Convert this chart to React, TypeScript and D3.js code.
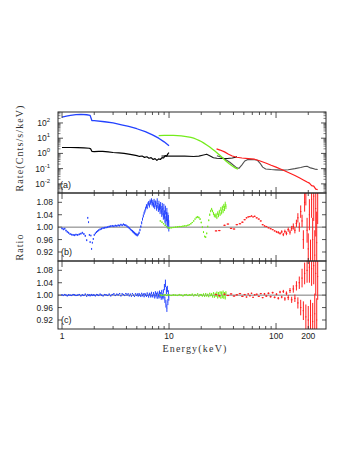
import React from 'react';
import * as d3 from 'd3';

// ---- panel (a): model/data count rates, log10(cts/s/keV) ----
const blueTopE = [1.0, 1.1, 1.2, 1.35, 1.5, 1.7, 1.83, 1.9, 2.0, 2.5, 3.0, 3.6, 4.2, 5.0, 6.0, 7.0, 8.0, 9.0, 10.0];
const blueTopLog = [2.39, 2.45, 2.5, 2.55, 2.56, 2.54, 2.5, 2.16, 2.15, 2.08, 2.0, 1.88, 1.77, 1.62, 1.43, 1.22, 1.0, 0.76, 0.5];

const blackTopE = [1.0, 1.2, 1.4, 1.6, 1.8, 1.85, 1.9, 2.0, 2.2, 2.4, 2.7, 3.0, 3.4, 3.8, 4.2, 4.6, 5.0, 5.3, 5.6, 5.9, 6.2, 6.5, 6.8, 7.1, 7.4, 7.7, 8.0, 8.3, 8.6, 8.9, 9.2, 9.5, 9.8, 10.0];
const blackTopLog = [0.39, 0.39, 0.38, 0.36, 0.34, 0.3, 0.14, 0.12, 0.13, 0.14, 0.1, 0.06, 0.03, 0.0, -0.05, -0.1, -0.15, -0.2, -0.17, -0.26, -0.22, -0.32, -0.28, -0.4, -0.34, -0.46, -0.36, -0.4, -0.28, -0.3, -0.15, -0.18, 0.0, 0.05];

const bkg2E = [8.5, 10, 12, 14, 17, 19, 21, 22.5, 24, 26, 28, 31, 35, 39, 42, 43];
const bkg2Log = [-0.17, -0.18, -0.17, -0.18, -0.2, -0.18, -0.1, -0.05, -0.15, -0.28, -0.32, -0.33, -0.33, -0.3, -0.25, -0.2];

const bkg3E = [28, 31, 34, 37, 40, 43, 45, 48, 51, 54, 58, 63, 67, 71, 75, 80, 90, 100, 115, 130, 150, 170, 185, 195, 210, 230, 245];
const bkg3Log = [-0.15, -0.25, -0.42, -0.58, -0.78, -0.95, -0.98, -0.75, -0.5, -0.41, -0.4, -0.42, -0.45, -0.65, -0.9, -1.02, -1.06, -1.08, -1.1, -1.07, -1.0, -0.93, -0.86, -0.85, -0.95, -1.03, -1.06];

const greenTopE = [8, 9, 10, 11, 12, 13, 14, 15, 16, 17, 18, 19, 20, 21, 22.5, 24, 25.5, 27, 28.5, 30, 32, 34, 36.5, 39, 41.5, 44];
const greenTopLog = [1.17, 1.18, 1.18, 1.18, 1.17, 1.15, 1.12, 1.09, 1.05, 1.0, 0.93, 0.86, 0.78, 0.69, 0.55, 0.42, 0.28, 0.14, 0.0, -0.14, -0.32, -0.5, -0.68, -0.83, -0.95, -1.03];

const redTopE = [27.8, 30, 33, 36, 39, 43, 48, 55, 63, 70, 80, 90, 100, 110, 120, 135, 150, 165, 180, 195, 205, 215, 225, 235, 245];
const redTopLog = [0.3, 0.22, 0.1, -0.05, -0.17, -0.25, -0.3, -0.34, -0.38, -0.48, -0.63, -0.78, -0.9, -1.02, -1.14, -1.3, -1.45, -1.6, -1.74, -1.88, -1.95, -2.12, -2.15, -2.35, -2.38];

// ---- ratio panels (b) and (c) ----
const blueE = [1.00, 1.03, 1.06, 1.09, 1.12, 1.15, 1.19, 1.23, 1.27, 1.31, 1.35, 1.40, 1.45, 1.50, 1.55, 1.60, 1.65, 1.70,
  1.74, 1.77, 1.80, 1.83, 1.86, 1.89, 1.92, 1.96, 2.00, 2.05, 2.10, 2.15, 2.20, 2.27, 2.34, 2.42, 2.50, 2.58, 2.67, 2.76, 2.85, 2.95,
  3.05, 3.15, 3.25, 3.35, 3.45, 3.55, 3.65, 3.75, 3.85, 3.95, 4.05, 4.15, 4.25, 4.35, 4.45, 4.55, 4.65, 4.75, 4.85, 4.95,
  5.05, 5.15, 5.25, 5.35, 5.45, 5.55, 5.65, 5.75, 5.85, 5.95, 6.05, 6.15, 6.25, 6.35, 6.45, 6.55, 6.65, 6.75, 6.85, 6.95,
  7.05, 7.15, 7.25, 7.35, 7.45, 7.55, 7.65, 7.75, 7.85, 7.95, 8.05, 8.15, 8.25, 8.35, 8.45, 8.55, 8.65, 8.75, 8.85, 8.95,
  9.05, 9.15, 9.25, 9.35, 9.45, 9.55, 9.65, 9.75, 9.85, 9.95];
const blueRatioB = [0.996, 0.993, 0.995, 0.989, 0.985, 0.982, 0.978, 0.976, 0.975, 0.974, 0.976, 0.975, 0.977, 0.979, 0.982, 0.978, 0.972, 0.958,
  1.030, 1.016, 0.975, 0.952, 0.973, 0.930, 0.950, 0.962, 0.975, 0.980, 0.984, 0.987, 0.990, 0.993, 0.995, 0.997, 0.998, 0.999, 1.000, 1.002, 1.003, 1.004,
  1.003, 1.005, 1.004, 1.006, 1.005, 1.008, 1.006, 1.009, 1.007, 1.006, 1.003, 1.000, 0.997, 0.993, 0.990, 0.987, 0.984, 0.981, 0.978, 0.976,
  0.974, 0.977, 0.982, 0.991, 1.002, 1.014, 1.026, 1.036, 1.045, 1.052, 1.060, 1.068, 1.064, 1.074, 1.078, 1.070, 1.082, 1.079, 1.086, 1.074,
  1.080, 1.071, 1.083, 1.066, 1.078, 1.074, 1.062, 1.084, 1.069, 1.058, 1.075, 1.064, 1.052, 1.070, 1.057, 1.044, 1.066, 1.050, 1.036, 1.062,
  1.041, 1.028, 1.055, 1.020, 1.034, 1.046, 1.012, 1.030, 1.022, 1.004];
const blueErrB = [0.003, 0.003, 0.003, 0.003, 0.003, 0.003, 0.003, 0.003, 0.003, 0.003, 0.003, 0.003, 0.003, 0.003, 0.003, 0.003, 0.003, 0.003,
  0.003, 0.003, 0.003, 0.003, 0.003, 0.003, 0.003, 0.003, 0.003, 0.003, 0.003, 0.003, 0.003, 0.003, 0.003, 0.003, 0.003, 0.003, 0.003, 0.003, 0.003, 0.003,
  0.003, 0.003, 0.003, 0.003, 0.003, 0.003, 0.003, 0.003, 0.003, 0.003, 0.003, 0.003, 0.003, 0.003, 0.003, 0.004, 0.004, 0.004, 0.004, 0.004,
  0.004, 0.004, 0.004, 0.004, 0.004, 0.005, 0.005, 0.005, 0.005, 0.005, 0.006, 0.006, 0.006, 0.006, 0.006, 0.007, 0.007, 0.007, 0.007, 0.007,
  0.008, 0.008, 0.008, 0.008, 0.008, 0.009, 0.009, 0.009, 0.009, 0.009, 0.010, 0.010, 0.010, 0.011, 0.011, 0.011, 0.012, 0.012, 0.012, 0.013,
  0.013, 0.014, 0.014, 0.015, 0.015, 0.016, 0.016, 0.017, 0.017, 0.018];
const blueRatioC = [1.001, 0.999, 1.002, 1.000, 0.998, 1.001, 1.000, 0.999, 1.002, 1.001, 0.999, 1.000, 1.002, 0.998, 1.001, 0.999, 1.003, 0.997,
  1.002, 0.999, 1.001, 0.998, 1.000, 1.002, 0.999, 1.001, 1.000, 0.998, 1.002, 1.001, 0.999, 1.003, 1.000, 0.998, 1.002, 1.001, 0.999, 1.003, 0.998, 1.002,
  1.004, 0.999, 1.003, 1.001, 1.005, 0.998, 1.004, 1.002, 0.999, 1.005, 1.001, 1.004, 0.998, 1.003, 0.997, 1.005, 1.000, 0.996, 1.004, 0.999,
  1.003, 0.998, 1.004, 1.000, 0.997, 1.005, 0.999, 1.003, 0.996, 1.004, 1.001, 0.997, 1.006, 1.000, 0.995, 1.004, 1.002, 0.996, 1.007, 0.999,
  0.996, 1.006, 1.001, 0.994, 1.008, 0.998, 1.003, 0.993, 1.007, 1.000, 0.995, 1.009, 0.997, 1.004, 0.991, 1.010, 0.999, 0.993, 1.012, 0.996,
  1.026, 0.985, 1.038, 0.972, 1.015, 0.958, 1.020, 0.978, 1.006, 0.992];
const blueErrC = [0.002, 0.002, 0.002, 0.002, 0.002, 0.002, 0.002, 0.002, 0.002, 0.002, 0.002, 0.002, 0.002, 0.002, 0.002, 0.002, 0.002, 0.002,
  0.002, 0.002, 0.002, 0.002, 0.002, 0.002, 0.002, 0.002, 0.002, 0.002, 0.002, 0.002, 0.002, 0.002, 0.002, 0.002, 0.002, 0.002, 0.002, 0.002, 0.002, 0.002,
  0.002, 0.002, 0.002, 0.002, 0.002, 0.002, 0.002, 0.002, 0.002, 0.002, 0.002, 0.002, 0.002, 0.002, 0.002, 0.002, 0.002, 0.002, 0.002, 0.002,
  0.003, 0.003, 0.003, 0.003, 0.003, 0.003, 0.003, 0.003, 0.003, 0.003, 0.003, 0.003, 0.003, 0.003, 0.003, 0.004, 0.004, 0.004, 0.004, 0.004,
  0.004, 0.004, 0.004, 0.005, 0.005, 0.005, 0.005, 0.005, 0.005, 0.005, 0.006, 0.006, 0.006, 0.006, 0.006, 0.007, 0.007, 0.007, 0.007, 0.007,
  0.010, 0.010, 0.012, 0.012, 0.012, 0.012, 0.010, 0.010, 0.010, 0.010];

const greenE = [8.3, 8.6, 8.9, 9.2, 9.5, 9.8, 10.1, 10.5, 11, 11.5, 12, 12.5, 13, 13.5, 14, 14.5, 15, 15.5, 16, 16.5, 17, 17.5, 18, 18.5,
  19, 19.5, 20, 20.5, 21, 21.5, 22, 22.5, 23, 23.5, 24, 24.5, 25, 25.5, 26, 26.5, 27, 27.5, 28, 28.5, 29, 29.5, 30, 30.5, 31, 31.5, 32, 32.5, 33, 33.5, 34];
const greenRatioB = [1.020, 1.016, 1.011, 1.006, 1.002, 0.998, 0.997, 0.998, 0.999, 1.000, 1.001, 1.002, 1.002, 1.003, 1.004, 1.004, 1.006, 1.008,
  1.011, 1.015, 1.020, 1.026, 1.031, 1.033, 1.031, 1.026, 1.015, 1.000, 0.984, 0.970, 0.968, 0.980, 1.002, 1.022, 1.040, 1.052, 1.058, 1.052,
  1.044, 1.038, 1.035, 1.040, 1.032, 1.045, 1.038, 1.050, 1.042, 1.058, 1.048, 1.062, 1.052, 1.068, 1.060, 1.074, 1.066];
const greenErrB = [0.002, 0.002, 0.002, 0.002, 0.002, 0.002, 0.002, 0.002, 0.002, 0.002, 0.002, 0.002, 0.002, 0.002, 0.002, 0.002, 0.002, 0.002,
  0.002, 0.002, 0.002, 0.002, 0.003, 0.003, 0.003, 0.003, 0.003, 0.003, 0.003, 0.003, 0.003, 0.003, 0.003, 0.003, 0.004, 0.004, 0.004, 0.004,
  0.005, 0.005, 0.005, 0.005, 0.006, 0.006, 0.006, 0.006, 0.006, 0.007, 0.007, 0.007, 0.007, 0.007, 0.008, 0.008, 0.008];
const greenRatioC = [1.001, 0.999, 1.000, 1.002, 0.999, 1.001, 1.000, 0.999, 1.001, 1.000, 0.999, 1.002, 1.000, 0.998, 1.001, 1.002, 0.999, 1.001,
  1.000, 1.003, 0.998, 1.002, 0.999, 1.004, 0.997, 1.002, 1.001, 0.998, 1.003, 0.997, 1.004, 0.998, 1.002, 0.996, 1.005, 0.999, 1.003, 0.996,
  1.006, 0.995, 1.004, 0.998, 1.007, 0.994, 1.005, 0.997, 1.008, 0.993, 1.006, 0.996, 1.009, 0.994, 1.004, 0.992, 1.007];
const greenErrC = [0.002, 0.002, 0.002, 0.002, 0.002, 0.002, 0.002, 0.002, 0.002, 0.002, 0.002, 0.002, 0.002, 0.002, 0.002, 0.002, 0.002, 0.002,
  0.002, 0.002, 0.002, 0.002, 0.002, 0.002, 0.002, 0.002, 0.003, 0.003, 0.003, 0.003, 0.003, 0.003, 0.003, 0.003, 0.003, 0.003, 0.004, 0.004,
  0.004, 0.004, 0.004, 0.004, 0.005, 0.005, 0.005, 0.005, 0.005, 0.005, 0.006, 0.006, 0.006, 0.006, 0.006, 0.006, 0.006];

const redE = [27.5, 29.5, 33, 35.5, 38, 40.5, 43, 46, 48.5, 51, 53, 55, 57, 59, 61, 63, 66, 69, 72, 75, 78, 81, 85, 89, 93, 97, 101, 105, 109, 113,
  117, 121, 125, 130, 135, 140, 145, 150, 155, 160, 165, 170, 175, 180, 185, 190, 195, 200, 205, 210, 215, 220, 225, 230, 235, 240, 245];
const redRatioB = [0.988, 0.989, 1.006, 1.010, 0.996, 0.994, 1.008, 1.011, 1.016, 1.024, 1.030, 1.033, 1.034, 1.036, 1.033, 1.035, 1.030, 1.026, 1.020, 1.008,
  1.004, 1.002, 0.998, 0.995, 0.992, 0.988, 0.985, 0.983, 0.980, 0.985, 0.976, 0.986, 0.980, 0.992, 0.984, 0.996, 1.002, 0.990, 1.012, 1.030,
  1.000, 1.050, 1.020, 0.960, 1.080, 1.110, 0.990, 0.930, 1.040, 0.900, 1.090, 0.960, 1.100, 0.910, 1.060, 0.950, 1.110];
const redErrB = [0.002, 0.002, 0.002, 0.002, 0.002, 0.002, 0.002, 0.002, 0.002, 0.002, 0.002, 0.002, 0.002, 0.002, 0.002, 0.002, 0.002, 0.002, 0.002, 0.002,
  0.002, 0.002, 0.002, 0.002, 0.002, 0.002, 0.003, 0.004, 0.004, 0.005, 0.005, 0.006, 0.006, 0.007, 0.008, 0.008, 0.010, 0.010, 0.012, 0.015,
  0.015, 0.020, 0.020, 0.030, 0.030, 0.040, 0.040, 0.050, 0.050, 0.060, 0.060, 0.070, 0.080, 0.080, 0.090, 0.100, 0.100];
const redRatioC = [1.002, 0.998, 1.003, 0.999, 1.004, 0.997, 1.001, 1.005, 0.996, 1.002, 0.994, 1.004, 0.998, 1.006, 0.993, 1.001, 1.003, 0.996, 1.005, 0.992,
  1.004, 0.997, 1.006, 0.995, 1.008, 0.993, 1.003, 0.990, 1.010, 0.994, 1.012, 0.988, 1.006, 0.992, 1.015, 0.985, 1.020, 0.990, 1.030, 0.975,
  1.040, 0.960, 1.055, 0.950, 1.070, 0.930, 1.080, 0.920, 1.090, 0.935, 1.085, 0.915, 1.095, 0.940, 1.070, 0.920, 1.060];
const redErrC = [0.002, 0.002, 0.002, 0.002, 0.002, 0.002, 0.002, 0.002, 0.002, 0.002, 0.002, 0.002, 0.002, 0.002, 0.002, 0.002, 0.002, 0.002, 0.002, 0.002,
  0.003, 0.003, 0.003, 0.003, 0.003, 0.003, 0.003, 0.004, 0.004, 0.004, 0.005, 0.006, 0.006, 0.008, 0.008, 0.010, 0.012, 0.012, 0.015, 0.018,
  0.020, 0.025, 0.030, 0.030, 0.035, 0.040, 0.040, 0.045, 0.050, 0.050, 0.055, 0.060, 0.060, 0.065, 0.070, 0.070, 0.075];

// ---- axes ----
const xLabelTicks = [1, 10, 100, 200];
const xMajorTicks = [1, 10, 100];
const xMinorTicks = [2, 3, 4, 5, 6, 7, 8, 9, 20, 30, 40, 50, 60, 70, 80, 90, 200];
const rateDecades = [-2, -1, 0, 1, 2];
const rateMinorTicks = [0.003, 0.004, 0.005, 0.006, 0.007, 0.008, 0.009, 0.02, 0.03, 0.04, 0.05, 0.06, 0.07, 0.08, 0.09,
  0.2, 0.3, 0.4, 0.5, 0.6, 0.7, 0.8, 0.9, 2, 3, 4, 5, 6, 7, 8, 9, 20, 30, 40, 50, 60, 70, 80, 90, 200, 300, 400, 500];
const ratioTicks = [0.92, 0.96, 1.0, 1.04, 1.08];

const BLUE = '#2342ff';
const GREEN = '#74ec1c';
const RED = '#ff1c1c';
const FRAME = '#2a2a2a';
const SANS = 'Liberation Sans, Arial, sans-serif';
const SERIF = 'Liberation Serif, Times New Roman, serif';

export default function App() {
  const left = 58, right = 326;
  const panels = { a: [112, 193], b: [193, 261], c: [261, 329] };

  const x = d3.scaleLog().domain([0.917, 293]).range([left, right]);
  const yA = d3.scaleLog().domain([Math.pow(10, -2.6), Math.pow(10, 2.72)]).range([193, 112]);
  const yB = d3.scaleLinear().domain([0.891, 1.11]).range([261, 193]);
  const yC = d3.scaleLinear().domain([0.891, 1.11]).range([329, 261]);

  const rateLine = (es: number[], logs: number[]) =>
    d3.line<number>()
      .x((_, i) => x(es[i]))
      .y(d => yA(Math.pow(10, d)))(logs) || '';

  // data crosses: vertical error bar + short horizontal bin mark
  const crosses = (es: number[], rs: number[], errs: number[], y: d3.ScaleLinear<number, number>) => {
    let p = '';
    es.forEach((e, i) => {
      const px = x(e);
      const prev = i > 0 ? x(es[i - 1]) : px - (x(es[1]) - px);
      const next = i < es.length - 1 ? x(es[i + 1]) : px + (px - x(es[i - 1]));
      const hl = Math.min((px - prev) / 2, 1.2);
      const hr = Math.min((next - px) / 2, 1.2);
      const err = Math.max(errs[i], 0.0015);
      p += `M${px.toFixed(2)},${y(rs[i] - err).toFixed(2)}V${y(rs[i] + err).toFixed(2)}`;
      p += `M${(px - hl).toFixed(2)},${y(rs[i]).toFixed(2)}H${(px + hr).toFixed(2)}`;
    });
    return p;
  };

  const xTicks = (top: number, bottom: number) => (
    <g stroke={FRAME} strokeWidth={0.8}>
      {xMajorTicks.map(t => (
        <g key={'M' + t}>
          <line x1={x(t)} x2={x(t)} y1={bottom} y2={bottom - 6} />
          <line x1={x(t)} x2={x(t)} y1={top} y2={top + 6} />
        </g>
      ))}
      {xMinorTicks.map(t => (
        <g key={'m' + t}>
          <line x1={x(t)} x2={x(t)} y1={bottom} y2={bottom - 3} />
          <line x1={x(t)} x2={x(t)} y1={top} y2={top + 3} />
        </g>
      ))}
    </g>
  );

  const ratioAxis = (y: d3.ScaleLinear<number, number>) => (
    <g>
      {ratioTicks.map(t => (
        <g key={t}>
          <line x1={left} x2={left + 4} y1={y(t)} y2={y(t)} stroke={FRAME} strokeWidth={0.8} />
          <line x1={right} x2={right - 4} y1={y(t)} y2={y(t)} stroke={FRAME} strokeWidth={0.8} />
          <text x={53} y={y(t) + 3} textAnchor="end" fontSize={8.5} fontFamily={SANS} fill="#222">{t.toFixed(2)}</text>
        </g>
      ))}
      <line x1={left} x2={right} y1={y(1)} y2={y(1)} stroke="#7a7a7a" strokeWidth={1} />
    </g>
  );

  return (
    <svg width={357} height={462} style={{ position: 'absolute', left: 0, top: 0, background: '#fff' }}>
      <defs>
        <clipPath id="clipA"><rect x={left} y={panels.a[0]} width={right - left} height={panels.a[1] - panels.a[0]} /></clipPath>
        <clipPath id="clipB"><rect x={left} y={panels.b[0]} width={right - left} height={panels.b[1] - panels.b[0]} /></clipPath>
        <clipPath id="clipC"><rect x={left} y={panels.c[0]} width={right - left} height={panels.c[1] - panels.c[0]} /></clipPath>
      </defs>

      {/* panel (a) */}
      <g clipPath="url(#clipA)" fill="none" strokeLinejoin="round">
        <path d={rateLine(bkg3E, bkg3Log)} stroke="#505050" strokeWidth={1.1} />
        <path d={rateLine(bkg2E, bkg2Log)} stroke="#111" strokeWidth={1.1} />
        <path d={rateLine(blackTopE, blackTopLog)} stroke="#000" strokeWidth={1.2} />
        <path d={rateLine(blueTopE, blueTopLog)} stroke={BLUE} strokeWidth={1.3} />
        <path d={rateLine(greenTopE, greenTopLog)} stroke={GREEN} strokeWidth={1.3} />
        <path d={rateLine(redTopE, redTopLog)} stroke={RED} strokeWidth={1.2} />
      </g>
      {rateDecades.map(d => (
        <g key={d}>
          <line x1={left} x2={left + 5} y1={yA(Math.pow(10, d))} y2={yA(Math.pow(10, d))} stroke={FRAME} strokeWidth={0.8} />
          <line x1={right} x2={right - 5} y1={yA(Math.pow(10, d))} y2={yA(Math.pow(10, d))} stroke={FRAME} strokeWidth={0.8} />
          <text x={50} y={yA(Math.pow(10, d)) + 3} textAnchor="end" fontSize={8.5} fontFamily={SANS} fill="#222">
            10<tspan dy={-4} fontSize={6}>{d}</tspan>
          </text>
        </g>
      ))}
      {rateMinorTicks.map(t => (
        <g key={t} stroke={FRAME} strokeWidth={0.6}>
          <line x1={left} x2={left + 2.5} y1={yA(t)} y2={yA(t)} />
          <line x1={right} x2={right - 2.5} y1={yA(t)} y2={yA(t)} />
        </g>
      ))}

      {/* panel (b) */}
      {ratioAxis(yB)}
      <g clipPath="url(#clipB)" fill="none" strokeWidth={1}>
        <path d={crosses(blueE, blueRatioB, blueErrB, yB)} stroke={BLUE} />
        <path d={crosses(greenE, greenRatioB, greenErrB, yB)} stroke={GREEN} />
        <path d={crosses(redE, redRatioB, redErrB, yB)} stroke={RED} />
      </g>

      {/* panel (c) */}
      {ratioAxis(yC)}
      <g clipPath="url(#clipC)" fill="none" strokeWidth={1}>
        <path d={crosses(blueE, blueRatioC, blueErrC, yC)} stroke={BLUE} />
        <path d={crosses(greenE, greenRatioC, greenErrC, yC)} stroke={GREEN} />
        <path d={crosses(redE, redRatioC, redErrC, yC)} stroke={RED} />
      </g>

      {/* frames and x ticks */}
      {Object.values(panels).map(([t, b]) => (
        <g key={t}>
          {xTicks(t, b)}
          <rect x={left} y={t} width={right - left} height={b - t} fill="none" stroke={FRAME} strokeWidth={1} />
        </g>
      ))}

      <text x={60} y={188} fontSize={9} fontFamily={SANS} fill="#222">(a)</text>
      <text x={61} y={255} fontSize={9} fontFamily={SANS} fill="#222">(b)</text>
      <text x={61} y={323} fontSize={9} fontFamily={SANS} fill="#222">(c)</text>

      {xLabelTicks.map(t => (
        <text key={t} x={x(t)} y={339} textAnchor="middle" fontSize={8.5} fontFamily={SANS} fill="#222">{t}</text>
      ))}

      <text x={195} y={352} textAnchor="middle" fontSize={10} fontFamily={SERIF} letterSpacing={1.2} fill="#333">Energy(keV)</text>
      <text transform="translate(23,148) rotate(-90)" textAnchor="middle" fontSize={10} fontFamily={SERIF} letterSpacing={1.1} fill="#333">Rate(Cnts/s/keV)</text>
      <text transform="translate(23,247) rotate(-90)" textAnchor="middle" fontSize={10} fontFamily={SERIF} letterSpacing={1.1} fill="#333">Ratio</text>
    </svg>
  );
}
